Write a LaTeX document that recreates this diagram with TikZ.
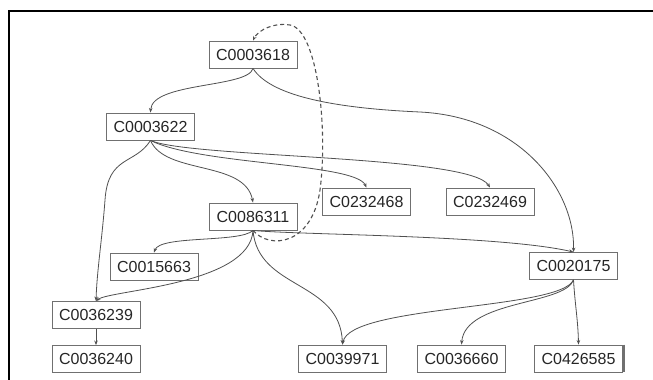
\documentclass[tikz,border=0pt]{standalone}
\usepackage{fontspec}
\setmainfont{Liberation Sans}
\usetikzlibrary{arrows.meta}
\definecolor{boxline}{HTML}{707070}
\definecolor{edgecol}{HTML}{505050}
\definecolor{txtcol}{HTML}{262626}
\tikzset{
  cbox/.style={draw=boxline, line width=0.9pt, fill=white, text=txtcol,
    minimum width=88pt, minimum height=27pt, inner sep=0pt,
    font=\fontsize{16}{18}\selectfont},
  link/.style={draw=edgecol, line width=0.8pt, -{Stealth[length=4.5pt,width=3.5pt]}},
  dlink/.style={link, dashed, dash pattern=on 4pt off 3pt, line width=1.1pt}
}
\begin{document}
\begin{tikzpicture}[x=1pt,y=-1pt]
\useasboundingbox (0,0) rectangle (653,380);
\fill[white] (0,0) rectangle (653,380);
\draw[line width=2.6pt, black] (9,381) -- (9,11) -- (654,11);

\node[cbox] (n1) at (253,54.5) {C0003618};
\node[cbox] (n2) at (150.5,126.5) {C0003622};
\node[cbox] (n3) at (253,216.5) {C0086311};
\node[cbox] (n4) at (154,266.5) {C0015663};
\node[cbox] (n5) at (96,315) {C0036239};
\node[cbox] (n6) at (96,359) {C0036240};
\node[cbox] (n7) at (366.5,201.5) {C0232468};
\node[cbox] (n8) at (490,201.5) {C0232469};
\node[cbox] (n9) at (573.5,266) {C0020175};
\node[cbox] (n10) at (342.5,358.5) {C0039971};
\node[cbox] (n11) at (461.5,358.5) {C0036660};
\node[cbox] (n12) at (578.5,358.5) {C0426585};
\draw[line width=2.5pt, boxline] ([xshift=0.8pt]n12.north east) -- ([xshift=0.8pt]n12.south east);

% edges
\draw[link] (n1.south) .. controls (248,88) and (152,82) .. (n2.north);
\draw[link] (n1.south) .. controls (270,95) and (330,108) .. (420,112) .. controls (520,117) and (575,190) .. (n9.north);
\draw[link] (n2.south) .. controls (200,165) and (355,163) .. (n7.north);
\draw[link] (n2.south) .. controls (190,158) and (470,155) .. (n8.north);
\draw[link] (n2.south) .. controls (165,175) and (245,160) .. (n3.north);
\draw[link] (n2.south) .. controls (135,165) and (108,155) .. (105,200) .. controls (102,240) and (97,270) .. (n5.north);
\draw[link] (n3.south) .. controls (240,243) and (160,235) .. (n4.north);
\draw[link] (n3.south) .. controls (250,285) and (110,290) .. (n5.north);
\draw[link] (n3.south) .. controls (258,290) and (340,280) .. (n10.north);
\draw[link] (n3.south) .. controls (300,235) and (500,235) .. (n9.north);
\draw[dlink] (n3.south) .. controls (270,250) and (312,245) .. (320,190) .. controls (328,130) and (318,30) .. (290,25) .. controls (275,22) and (258,30) .. (n1.north);
\draw[link] (n9.south) .. controls (560,310) and (350,305) .. (n10.north);
\draw[link] (n9.south) .. controls (565,305) and (465,300) .. (n11.north);
\draw[link] (n9.south) .. controls (575,305) and (578,320) .. (n12.north);
\draw[link] (n5) -- (n6);
\end{tikzpicture}
\end{document}
